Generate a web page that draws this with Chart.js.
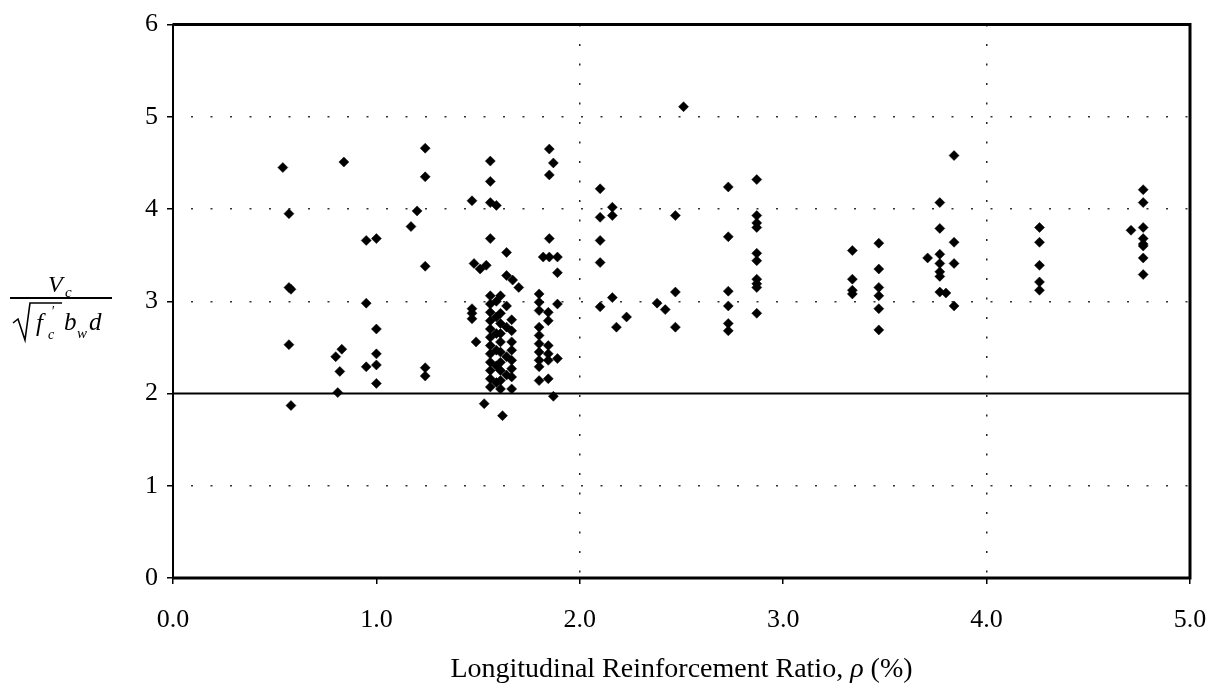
<!DOCTYPE html>
<html>
<head>
<meta charset="utf-8">
<script src="https://cdn.jsdelivr.net/npm/chart.js@4.4.1/dist/chart.umd.min.js"></script>
<style>
    html, body { margin: 0; padding: 0; background: #fff; }
    #wrap { position: relative; width: 1217px; height: 689px; }
</style>
</head>
<body>
<div id="wrap"><canvas id="shearChart"></canvas></div>
<script>
// longitudinal reinforcement ratio (%) of each test
const rho = [
    0.54, 0.57, 0.57, 0.58, 0.57, 0.58,
    0.84, 0.83, 0.80, 0.82, 0.81,
    0.95, 1.00, 0.95, 1.00, 1.00, 1.00, 0.95, 1.00,
    1.24, 1.24, 1.20, 1.17, 1.24, 1.24, 1.24,
    1.56, 1.56, 1.47, 1.56, 1.59, 1.56, 1.64, 1.48, 1.51, 1.54, 1.64, 1.67, 1.70,
    1.47, 1.47, 1.47, 1.49, 1.53, 1.62,
    1.56, 1.56, 1.56, 1.56, 1.56, 1.56, 1.56, 1.56, 1.56, 1.56, 1.56, 1.56,
    1.59, 1.59, 1.59, 1.59, 1.59, 1.59,
    1.61, 1.61, 1.61, 1.61, 1.61, 1.61, 1.61, 1.61, 1.61, 1.61,
    1.665, 1.665, 1.665, 1.665, 1.665, 1.665, 1.665, 1.665,
    1.64, 1.64, 1.64, 1.64,
    1.85, 1.87, 1.85, 1.85, 1.82, 1.85, 1.89, 1.89, 1.89, 1.89, 1.87,
    1.80, 1.80, 1.80, 1.80, 1.80, 1.80, 1.80, 1.80, 1.80, 1.80,
    1.845, 1.845, 1.845, 1.845, 1.845, 1.845,
    2.10, 2.10, 2.16, 2.16, 2.10, 2.10, 2.16, 2.10, 2.18, 2.23,
    2.38, 2.42, 2.47, 2.47, 2.47, 2.51,
    2.73, 2.73, 2.73, 2.73, 2.73, 2.73,
    2.87, 2.87, 2.87, 2.87, 2.87, 2.87, 2.87, 2.87, 2.87, 2.87,
    3.34, 3.34, 3.34, 3.34,
    3.47, 3.47, 3.47, 3.47, 3.47, 3.47,
    3.77, 3.84, 3.77, 3.84, 3.71, 3.77, 3.77, 3.84, 3.77, 3.77, 3.77, 3.80, 3.84,
    4.26, 4.26, 4.26, 4.26, 4.26,
    4.77, 4.77, 4.71, 4.77, 4.77, 4.77, 4.77, 4.77, 4.77
];

// normalised shear strength Vc / (sqrt(f'c) bw d), same order as rho
const shearRatio = [
    4.45, 3.95, 3.15, 3.13, 2.53, 1.87,
    4.51, 2.48, 2.40, 2.24, 2.01,
    3.66, 3.68, 2.98, 2.70, 2.43, 2.31, 2.29, 2.11,
    4.66, 4.35, 3.98, 3.81, 3.38, 2.28, 2.19,
    4.52, 4.30, 4.09, 4.07, 4.04, 3.68, 3.53, 3.41, 3.35, 3.39, 3.28, 3.23, 3.15,
    2.92, 2.87, 2.81, 2.56, 1.89, 1.76,
    3.06, 2.97, 2.88, 2.79, 2.70, 2.61, 2.52, 2.43, 2.34, 2.25, 2.16, 2.07,
    3.00, 2.83, 2.65, 2.47, 2.30, 2.12,
    3.06, 2.87, 2.76, 2.65, 2.56, 2.45, 2.34, 2.25, 2.14, 2.05,
    2.80, 2.68, 2.56, 2.47, 2.36, 2.27, 2.18, 2.05,
    2.95, 2.72, 2.40, 2.20,
    4.65, 4.50, 4.37, 3.68, 3.48, 3.48, 3.48, 3.31, 2.97, 2.38, 1.97,
    3.08, 2.99, 2.90, 2.72, 2.63, 2.54, 2.45, 2.36, 2.29, 2.14,
    2.88, 2.79, 2.52, 2.43, 2.36, 2.16,
    4.22, 3.91, 4.02, 3.93, 3.66, 3.42, 3.04, 2.94, 2.72, 2.83,
    2.98, 2.91, 3.93, 3.10, 2.72, 5.11,
    4.24, 3.70, 3.11, 2.95, 2.76, 2.68,
    4.32, 3.93, 3.85, 3.80, 3.52, 3.44, 3.24, 3.19, 3.15, 2.87,
    3.55, 3.24, 3.12, 3.08,
    3.63, 3.35, 3.15, 3.06, 2.92, 2.69,
    4.07, 4.58, 3.79, 3.64, 3.47, 3.51, 3.41, 3.41, 3.32, 3.27, 3.10, 3.09, 2.95,
    3.80, 3.64, 3.39, 3.21, 3.12,
    4.21, 4.07, 3.77, 3.80, 3.68, 3.62, 3.60, 3.47, 3.29
];

const xTicks = [0, 1, 2, 3, 4, 5];
const yTicks = [0, 1, 2, 3, 4, 5, 6];
const xGridValues = [2, 4];
const yGridValues = [1, 3, 4, 5];
const limitValue = 2;      // the solid horizontal line at 2
const xRange = [0, 5];

const serif = '"Liberation Serif", "Times New Roman", serif';

const points = rho.map((x, i) => ({ x, y: shearRatio[i] }));
const limitLine = xRange.map((x) => ({ x, y: limitValue }));

// fraction on the left and the x axis title, plus the black frame
const labelsPlugin = {
    id: 'labelsPlugin',
    afterDraw(chart) {
        const { ctx, chartArea: a } = chart;
        ctx.save();
        ctx.fillStyle = '#000';
        ctx.strokeStyle = '#000';
        ctx.textAlign = 'left';
        ctx.textBaseline = 'alphabetic';

        // frame
        ctx.lineWidth = 3;
        ctx.beginPath();
        ctx.moveTo(a.left, a.top);
        ctx.lineTo(a.right, a.top);
        ctx.lineTo(a.right, a.bottom);
        ctx.lineTo(a.left, a.bottom);
        ctx.stroke();
        ctx.lineWidth = 2;
        ctx.beginPath();
        ctx.moveTo(a.left, a.top - 1);
        ctx.lineTo(a.left, a.bottom + 1);
        ctx.stroke();

        // y title: Vc / (sqrt(f'c) bw d)
        ctx.font = `italic 24px ${serif}`;
        ctx.fillText('V', 48, 292);
        ctx.font = `italic 15px ${serif}`;
        ctx.fillText('c', 65, 297);
        ctx.fillRect(10, 297, 102, 2);

        ctx.lineWidth = 1.6;
        ctx.beginPath();
        ctx.moveTo(13, 323);
        ctx.lineTo(18, 319);
        ctx.lineTo(25, 340);
        ctx.lineTo(30, 303);
        ctx.lineTo(62, 303);
        ctx.stroke();

        ctx.font = `italic 25px ${serif}`;
        ctx.fillText('f', 36, 331);
        ctx.font = `italic 14px ${serif}`;
        ctx.fillText('c', 48, 339);
        ctx.fillText('\u2032', 51, 316);
        ctx.font = `italic 25px ${serif}`;
        ctx.fillText('b', 64, 330);
        ctx.font = `italic 15px ${serif}`;
        ctx.fillText('w', 77, 338);
        ctx.font = `italic 25px ${serif}`;
        ctx.fillText('d', 89, 330);

        // x title with italic rho, centred under the plot
        const partA = 'Longitudinal Reinforcement Ratio, ';
        const partB = '\u03c1';
        const partC = ' (%)';
        const normal = `28px ${serif}`;
        const italic = `italic 28px ${serif}`;
        ctx.font = normal;
        const wA = ctx.measureText(partA).width;
        const wC = ctx.measureText(partC).width;
        ctx.font = italic;
        const wB = ctx.measureText(partB).width;
        let x = (a.left + a.right) / 2 - (wA + wB + wC) / 2;
        const y = 677;
        ctx.font = normal;
        ctx.fillText(partA, x, y);
        x += wA;
        ctx.font = italic;
        ctx.fillText(partB, x, y);
        x += wB;
        ctx.font = normal;
        ctx.fillText(partC, x, y);
        ctx.restore();
    }
};

new Chart(document.getElementById('shearChart').getContext('2d'), {
    type: 'scatter',
    data: {
        datasets: [
            {
                data: points,
                pointStyle: 'rectRot',
                pointRadius: 5,
                pointBackgroundColor: '#000',
                pointBorderColor: '#000',
                pointBorderWidth: 0.5,
                order: 1
            },
            {
                data: limitLine,
                showLine: true,
                borderColor: '#000',
                borderWidth: 2,
                pointRadius: 0,
                order: 2
            }
        ]
    },
    options: {
        responsive: true,
        maintainAspectRatio: false,
        animation: false,
        events: [],
        layout: { padding: { top: 24, right: 27, bottom: 0, left: 0 } },
        plugins: { legend: { display: false }, tooltip: { enabled: false } },
        scales: {
            x: {
                type: 'linear',
                min: xRange[0],
                max: xRange[1],
                afterBuildTicks: (scale) => { scale.ticks = xTicks.map((value) => ({ value })); },
                afterFit: (scale) => {
                    scale.height = 111;
                    scale.paddingLeft = 0;
                    scale.paddingRight = 0;
                },
                ticks: {
                    color: '#000',
                    font: { family: serif, size: 26 },
                    padding: 21,
                    maxRotation: 0,
                    callback: (value) => Number(value).toFixed(1)
                },
                grid: {
                    color: (ctx) => (ctx.tick && xGridValues.includes(ctx.tick.value) ? '#222' : 'transparent'),
                    lineWidth: 1.5,
                    tickColor: '#000',
                    tickLength: 6
                },
                border: { display: false, dash: [2, 17.5] }
            },
            y: {
                type: 'linear',
                min: yTicks[0],
                max: yTicks[yTicks.length - 1],
                afterBuildTicks: (scale) => { scale.ticks = yTicks.map((value) => ({ value })); },
                afterFit: (scale) => { scale.width = 173; },
                ticks: {
                    color: '#000',
                    font: { family: serif, size: 26 },
                    padding: 9
                },
                grid: {
                    color: (ctx) => (ctx.tick && yGridValues.includes(ctx.tick.value) ? '#333' : 'transparent'),
                    lineWidth: 1.5,
                    tickColor: '#000',
                    tickLength: 6
                },
                border: { display: false, dash: [2, 17.5], dashOffset: -18 }
            }
        }
    },
    plugins: [labelsPlugin]
});
</script>
</body>
</html>
